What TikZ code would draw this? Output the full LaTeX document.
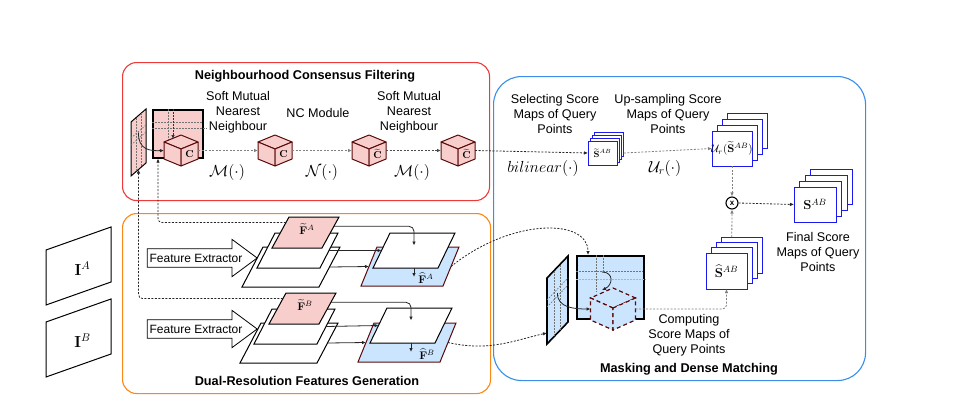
\documentclass[tikz,border=0pt]{standalone}
\usepackage{fix-cm}
\usepackage{amsmath}
\usepackage[no-math]{fontspec}
\setmainfont{Liberation Sans}
\usetikzlibrary{arrows.meta, positioning, shapes.arrows, calc}

\definecolor{ncfred}{HTML}{EE3A3A}
\definecolor{drforange}{HTML}{FA8816}
\definecolor{mdmblue}{HTML}{3A8EEA}
\definecolor{pinkf}{HTML}{F8CECC}
\definecolor{bluef}{HTML}{CCE5FF}
\definecolor{darkred}{HTML}{5A0A0A}
\definecolor{stackblue}{HTML}{1A1AF0}

\begin{document}
\begin{tikzpicture}[x=1pt, y=-1pt,
  txt/.style={font=\fontsize{12.6}{15.2}\selectfont, align=center},
  ttl/.style={font=\bfseries\fontsize{12.7}{14}\selectfont},
  mth/.style={font=\fontsize{16}{18}\selectfont},
  sml/.style={font=\fontsize{#1}{#1}\selectfont, inner sep=0pt},
  group/.style={draw, line width=1.1pt, rounded corners=14pt, anchor=north west, inner sep=0pt},
  sheetw/.style={draw=black, fill=white, line width=1pt},
  sheetp/.style={draw=black, fill=pinkf, line width=1pt},
  sheetb/.style={draw=darkred, fill=bluef, line width=1pt},
  cubep/.style={draw=darkred, fill=pinkf, line width=1pt, line join=round},
  cubed/.style={draw=darkred, fill=bluef, line width=1.2pt, dash pattern=on 4pt off 3pt},
  maps/.style={draw=stackblue, fill=white, line width=1pt},
  thk/.style={draw=black, line width=1.6pt, anchor=north west, inner sep=0pt},
  gridln/.style={draw=black!55, dash pattern=on 1.5pt off 1.5pt, line width=0.7pt},
  line/.style={draw=black!85, line width=0.8pt, -{Latex[length=4pt, width=3.5pt]}},
  dline/.style={line, dash pattern=on 2pt off 1.5pt},
  gline/.style={dline, draw=black!50},
  extract/.style={single arrow, draw, line width=0.8pt, minimum height=103pt,
    single arrow head extend=9.5pt, single arrow tip angle=73, inner xsep=2pt, inner ysep=4.6pt,
    font=\fontsize{12}{15}\selectfont},
  % parallelogram lying flat: width, height, shear
  pics/sheet/.style n args={3}{code={
    \path[pic actions] (0,0) coordinate (-bl) -- (#1,0) coordinate (-br)
      -- ({#1+#3},-#2) coordinate (-tr) -- (#3,-#2) coordinate (-tl) -- cycle;
    \coordinate (-c) at ({#1/2+#3/2},{-#2/2});
    \coordinate (-l) at ({0.82*#3},{-0.82*#2});
    \coordinate (-lm) at ({0.5*#3},{-0.5*#2});
    \coordinate (-m) at ({#1+0.5*#3},{-0.5*#2});
    \coordinate (-r) at ({#1+0.7*#3},{-0.7*#2});
  }},
  % parallelogram standing up: width, height, shear
  pics/panel/.style n args={3}{code={
    \path[pic actions] (0,0) coordinate (-bl) -- (0,-#2) coordinate (-tl)
      -- (#1,{-#2-#3}) coordinate (-tr) -- (#1,-#3) coordinate (-br) -- cycle;
    \coordinate (-c) at ({#1/2},{-#2/2-#3/2});
    \coordinate (-bm) at ({#1/2},{-#3/2});
    \coordinate (-lb) at (0,{-#2/6});
  }},
  % cube: half width, slope, edge
  pics/cube/.style n args={3}{code={
    \path[pic actions] (0,0) -- (-#1,-#2) -- (0,{-2*#2}) -- (#1,-#2) -- cycle;
    \path[pic actions] (0,0) -- (-#1,-#2) -- (-#1,{#3-#2}) -- (0,#3) -- cycle;
    \path[pic actions] (0,0) -- (#1,-#2) -- (#1,{#3-#2}) -- (0,#3) -- cycle;
    \coordinate (-w) at (-#1,{#3/2-#2});
    \coordinate (-e) at (#1,{#3/2-#2});
    \coordinate (-n) at (0,{-2*#2});
    \coordinate (-rf) at ({#1/2},{#3/2-#2/2});
  }},
  % stack of four maps: width, height, step x, step y
  pics/stack/.style n args={4}{code={
    \foreach \i in {3,2,1}
      \path[pic actions] ({\i*#3-#1/2},{-\i*#4-#2/2}) rectangle ++(#1,#2);
    \path[pic actions] ({-#1/2},{-#2/2}) rectangle ++(#1,#2);
    \coordinate (-c) at (0,0);
    \coordinate (-w) at ({-#1/2},0);
    \coordinate (-e) at ({#1/2+3*#3},0);
    \coordinate (-s) at (0,{#2/2});
    \coordinate (-n) at (#3,{-#2/2-3*#4});
  }}
]
\useasboundingbox (0,0) rectangle (975,410);

% Group boxes
\node[group, draw=ncfred, minimum width=367pt, minimum height=138pt] (ncf) at (122,62) {};
\node[group, draw=drforange, minimum width=368pt, minimum height=180pt] (drf) at (122,213) {};
\node[group, draw=mdmblue, rounded corners=28pt, minimum width=372pt, minimum height=304pt] (mdm) at (493,76) {};

\node[ttl] (ncft) at (305,76) {Neighbourhood Consensus Filtering};
\node[ttl] (drft) at (307,381) {Dual-Resolution Features Generation};
\node[ttl] (mdmt) at (689,369) {Masking and Dense Matching};

% Input images
\pic[sheetw] (imA) at (46,305) {panel={65}{55}{23}};
\pic[sheetw] (imB) at (46,377) {panel={65}{55}{23}};
\node[mth] (imAt) at ($(imA-c)+(4,3)$) {$\mathbf{I}^{A}$};
\node[mth] (imBt) at ($(imB-c)+(4,3)$) {$\mathbf{I}^{B}$};

% Feature extractors
\node[extract] (feA) at (196,258) {Feature Extractor};
\node[extract] (feB) at (196,329) {Feature Extractor};

% Feature pyramid A
\pic[sheetw] (A3) at (242,287) {sheet={77}{40}{21}};
\pic[sheetw] (A2) at (257,268) {sheet={63}{35}{18}};
\pic[sheetp] (A1) at (272,248) {sheet={50}{31}{17}};
\pic[sheetb] (AH) at (361,286) {sheet={82}{39}{16}};
\pic[sheetw] (AW) at (373,268) {sheet={65}{35}{17}};
\node[sml=11] (A1t) at (307,229) {$\widetilde{\mathbf{F}}^{A}$};
\node[sml=11] (AHt) at (426,278) {$\widehat{\mathbf{F}}^{A}$};

% Feature pyramid B
\pic[sheetw] (B3) at (240,363) {sheet={77}{40}{21}};
\pic[sheetw] (B2) at (254,344) {sheet={63}{35}{18}};
\pic[sheetp] (B1) at (269,324) {sheet={50}{31}{17}};
\pic[sheetb] (BH) at (358,362) {sheet={82}{39}{16}};
\pic[sheetw] (BW) at (370,343) {sheet={65}{35}{17}};
\node[sml=11] (B1t) at (305,305) {$\widetilde{\mathbf{F}}^{B}$};
\node[sml=11] (BHt) at (427,354) {$\widehat{\mathbf{F}}^{B}$};

\draw[line, rounded corners=5pt, shorten >=5pt] (A1-r) -| (AW-c);
\draw[line] (A2-m) -- (AW-lm);
\draw[line] (A3-m) -- (AH-lm);
\draw[line] (AW-c |- AW-bl) -- ++(0,9);
\draw[line, rounded corners=5pt, shorten >=5pt] (B1-r) -| (BW-c);
\draw[line] (B2-m) -- (BW-lm);
\draw[line] (B3-m) -- (BH-lm);
\draw[line] (BW-c |- BW-bl) -- ++(0,9);

% Correlation in the filtering box
\pic[sheetp] (qpan) at (131,176) {panel={15}{54}{13}};
\draw[gridln] (136,118) -- (136,171);
\draw[gridln] (141,113) -- (141,167);
\draw[gridln] (131,138) -- (146,125);
\draw[gridln] (131,145) -- (146,132);
\node[thk, fill=pinkf, minimum width=50pt, minimum height=48pt] (ncsq) at (152,109) {};
\draw[gridln] (168,109) -- (168,140);
\draw[gridln] (152,122) -- (202,122);
\draw[gridln] (152,128) -- (207,128);
\draw[gridln, -{Latex[length=4pt, width=3.5pt]}, draw=black!80] (173,109) -- (173,139);

% NC cubes
\pic[cubep] (c1) at (181,149) {cube={17}{7}{17}};
\pic[cubep] (c2) at (275,149) {cube={17}{7}{17}};
\pic[cubep] (c3) at (369,149) {cube={17}{7}{17}};
\pic[cubep] (c4) at (458,149) {cube={17}{7}{17}};
\node[sml=10] (c1t) at (c1-rf) {$\mathbf{C}$};
\node[sml=10] (c2t) at (c2-rf) {$\mathbf{C}$};
\node[sml=10] (c3t) at (c3-rf) {$\widetilde{\mathbf{C}}$};
\node[sml=10] (c4t) at (c4-rf) {$\widetilde{\mathbf{C}}$};
\draw[line] ($(qpan-c)+(0,-10)$) .. controls (138,150) and (150,151) .. (c1-w);

\node[txt] (smnn1) at (238,112) {Soft Mutual\\Nearest\\Neighbour};
\node[txt] (ncm) at (318,113) {NC Module};
\node[txt] (smnn2) at (409,112) {Soft Mutual\\Nearest\\Neighbour};
\node[mth] (m1) at (227,172) {$\mathcal{M}(\cdot)$};
\node[mth] (n1) at (322,172) {$\mathcal{N}(\cdot)$};
\node[mth] (m2) at (412,172) {$\mathcal{M}(\cdot)$};

\draw[gline] (c1-e) -- (c2-w);
\draw[gline] (c2-e) -- (c3-w);
\draw[dline, draw=black!70] (c3-e) -- (c4-w);

% Score maps
\pic[maps] (sTil) at (602.5,153) {stack={29}{24}{2.3}{2.8}};
\pic[maps] (sUp) at (732,148.5) {stack={40}{35}{5.3}{6}};
\pic[maps] (sHat) at (726.5,271) {stack={41}{36}{5.3}{5.3}};
\pic[maps] (sFin) at (815,204.5) {stack={42}{35}{5.5}{5.7}};
\node[sml=9] (sTilt) at (sTil-c) {$\widetilde{\mathbf{S}}^{AB}$};
\node[sml=11] (sUpt) at (sUp-c) {$\mathcal{U}_r(\widetilde{\mathbf{S}}^{AB})$};
\node[sml=13] (sHatt) at (sHat-c) {$\widehat{\mathbf{S}}^{AB}$};
\node[sml=13] (sFint) at (sFin-c) {$\mathbf{S}^{AB}$};
\node[circle, draw=black, line width=1.1pt, inner sep=0pt, minimum size=12pt,
  font=\bfseries\fontsize{8}{8}\selectfont] (mult) at (732,203) {x};

\node[txt] (sel) at (555,114) {Selecting Score\\Maps of Query\\Points};
\node[txt] (ups) at (668,114) {Up-sampling Score\\Maps of Query\\Points};
\node[mth] (bil) at (543,168) {$bilinear(\cdot)$};
\node[mth] (upr) at (665,168) {$\mathcal{U}_r(\cdot)$};
\node[txt] (fin) at (818,252) {Final Score\\Maps of Query\\Points};
\node[txt] (cmp) at (689,335) {Computing\\Score Maps of\\Query Points};

% Masking and dense matching
\pic[draw=black, fill=bluef, line width=1.6pt] (mpan) at (547,344) {panel={21}{66}{22}};
\draw[gridln] (554,271) -- (554,337);
\draw[gridln] (560,265) -- (560,330);
\draw[gridln] (547,300) -- (568,278);
\draw[gridln] (547,307) -- (568,285);
\node[thk, fill=bluef, minimum width=67pt, minimum height=63pt] (mdsq) at (576,255) {};
\draw[gridln] (596,255) -- (596,292);
\draw[gridln] (603,255) -- (603,272);
\draw[gridln] (576,271) -- (643,271);
\draw[gridln, draw=black!30] (576,279) -- (646,279);
\pic[cubed] (dcube) at (613,308) {cube={22.5}{10}{22}};
\draw[line] (602,272) .. controls (614,272) and (613,285) .. (602,290);
\draw[line] ($(mpan-c)+(0,-7)$) .. controls (557,308) and (575,309) .. (dcube-w);

% Connections
\draw[dline, rounded corners=4pt] (A1-l) -| ($(ncsq.south west)+(6,0)$);
\draw[dline, rounded corners=4pt] (B1-l) -| (qpan-bm);
\draw[dline] (c4-e) -- (sTil-w);
\draw[gline] (sTil-e) -- (sUp-w);
\draw[gline] (sUp-s) -- (mult.north);
\draw[gline] (sHat-n) -- (mult.south);
\draw[dline] (mult.east) -- (sFin-w);
\draw[dline] (AH-m) .. controls (511,218) and (588,218) .. ($(mdsq.north west)+(12,0)$);
\draw[dline] (BH-m) .. controls (490,352) and (515,340) .. (mpan-lb);
\draw[gline, rounded corners=4pt] (dcube-e) -| (sHat-s);

\end{tikzpicture}
\end{document}
